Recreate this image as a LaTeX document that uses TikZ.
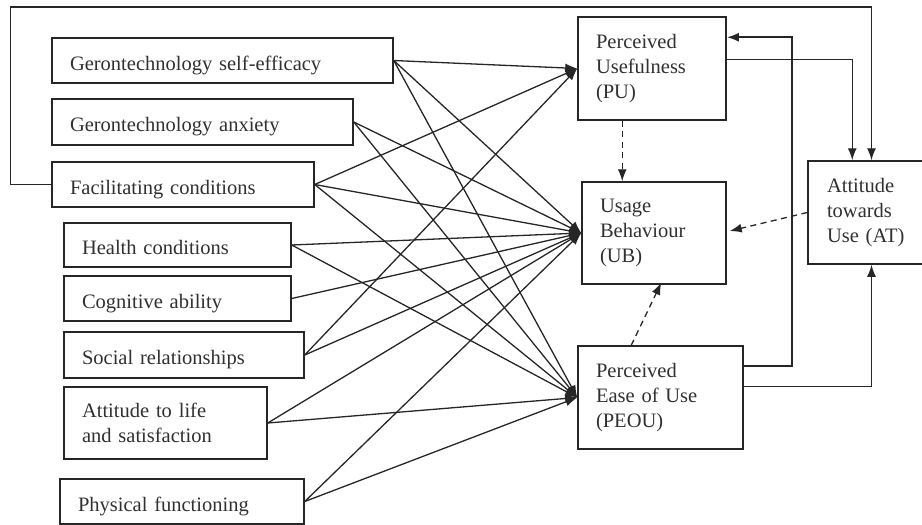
\documentclass[tikz,border=0pt]{standalone}
\usepackage{fontspec}
\setmainfont{Liberation Serif}
\usetikzlibrary{arrows.meta,calc}
\definecolor{ink}{HTML}{262626}
\definecolor{txt}{HTML}{303030}
\tikzset{
  box/.style={draw=ink, line width=1.5pt, rectangle, inner xsep=18pt, inner ysep=0pt,
    align=left, text=txt, font=\fontsize{20.5}{25}\selectfont},
  oneline/.style={text height=19pt, text depth=0pt},
  link/.style={draw=ink, line width=1.3pt, -{Latex[length=12pt,width=9pt]}},
  heavy/.style={link, line width=2.2pt},
  dashlink/.style={link, dash pattern=on 6pt off 4.5pt}
}
\begin{document}
\begin{tikzpicture}[x=1pt,y=-1pt]
\useasboundingbox (0,0) rectangle (922,525);

% determinants (left column)
\node[box, oneline, minimum width=341pt, text width=305pt, minimum height=45pt] (gse) at (222.5,60.5) {Gerontechnology self-efficacy};
\node[box, oneline, minimum width=301pt, text width=265pt, minimum height=46pt] (ga)  at (202.5,122) {Gerontechnology anxiety};
\node[box, oneline, minimum width=262pt, text width=226pt, minimum height=45pt] (fc)  at (183,184.5) {Facilitating conditions};
\node[box, oneline, minimum width=227pt, text width=191pt, minimum height=44pt] (hc)  at (177.5,245) {Health conditions};
\node[box, oneline, minimum width=227pt, text width=191pt, minimum height=45pt] (ca)  at (177.5,298.5) {Cognitive ability};
\node[box, oneline, minimum width=240pt, text width=204pt, minimum height=46pt] (sr)  at (184,355) {Social relationships};
\node[box, minimum width=203pt, text width=167pt, minimum height=72pt] (als) at (165.5,423) {Attitude to life\\and satisfaction};
\node[box, oneline, minimum width=244pt, text width=208pt, minimum height=45pt] (pf)  at (182,501.5) {Physical functioning};

% TAM constructs
\node[box, minimum width=148pt, text width=112pt, minimum height=103pt] (pu)   at (652,68.5) {Perceived\\Usefulness\\(PU)};
\node[box, minimum width=144pt, text width=108pt, minimum height=102pt] (ub)   at (654,233) {Usage\\Behaviour\\(UB)};
\node[box, minimum width=165pt, text width=129pt, minimum height=103pt] (peou) at (660.5,397.5) {Perceived\\Ease of Use\\(PEOU)};
\node[box, minimum width=127pt, text width=89pt, inner xsep=19pt, minimum height=103pt] (at) at (871.5,212.5) {Attitude\\towards\\Use (AT)};

% paths into PU
\draw[link] (gse.east) -- (pu.west);
\draw[link] (fc.east)  -- (pu.west);
\draw[link] (sr.east)  -- (pu.west);

% paths into UB
\foreach \s in {gse,ga,fc,hc,ca,sr,als,pf}
  \draw[link] (\s.east) -- (ub.west);

% paths into PEOU
\foreach \s in {gse,ga,fc,hc,als,pf}
  \draw[link] (\s.east) -- (peou.west);

% dashed links into UB
\draw[dashlink] ($(pu.south west)+(45,0)$) -- ($(ub.north west)+(41,0)$);
\draw[dashlink] ($(peou.north west)+(54,0)$) -- ($(ub.south west)+(80,-2)$);
\draw[dashlink] (at.west) -- ($(ub.east)+(3,-2)$);

% PEOU -> PU
\coordinate (fbx) at (792,38);
\draw[heavy] ($(peou.north east)+(0,21)$) -| (fbx) |- ($(pu.north east)+(0,21)$);

% PU -> AT and PEOU -> AT
\draw[link] ($(pu.north east)+(0,43)$) -| ($(at.north west)+(45,0)$);
\draw[link] ($(peou.north east)+(0,41)$) -| (at.south);

% facilitating conditions -> AT (outer loop)
\coordinate (looptop) at (871.5,7);
\draw[link] (fc.west) -- ++(-41,0) |- (looptop) -- (at.north);
\end{tikzpicture}
\end{document}
